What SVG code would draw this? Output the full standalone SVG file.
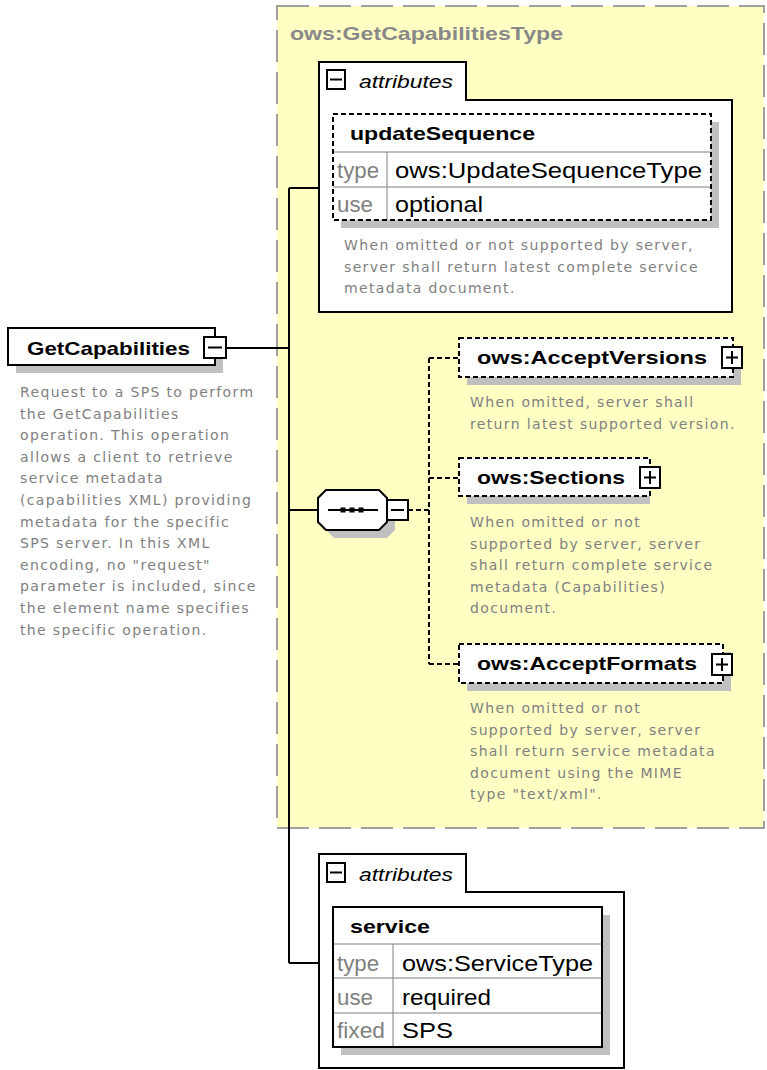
<svg xmlns="http://www.w3.org/2000/svg" width="767" height="1070" viewBox="0 0 767 1070">
<style>
.desc{font-family:"DejaVu Sans","Liberation Sans",sans-serif;font-size:14px;fill:#808080;letter-spacing:1.35px}
.lbl{font-family:"Liberation Sans",Arial,sans-serif;font-weight:bold;font-size:19px;fill:#000}
.title{font-family:"Liberation Sans",Arial,sans-serif;font-weight:bold;font-size:19px;fill:#888}
.cell{font-family:"Liberation Sans",Arial,sans-serif;font-size:22px;fill:#000}
.key{font-family:"Liberation Sans",Arial,sans-serif;font-size:22px;fill:#808080}
.attr{font-family:"Liberation Sans",Arial,sans-serif;font-style:italic;font-size:18px;fill:#000}
.box{fill:#fff;stroke:#000;stroke-width:2}
.opt{fill:#fff;stroke:#000;stroke-width:2;stroke-dasharray:5 3}
.shadow{fill:#c0c0c0}
.conn{fill:none;stroke:#000;stroke-width:2}
.dconn{fill:none;stroke:#000;stroke-width:2;stroke-dasharray:5 3}
.icon{fill:#fff;stroke:#000;stroke-width:2}
.grid{stroke:#808080;stroke-width:1;fill:none}
</style>

<g id="complexType">
  <rect x="277" y="6" width="487" height="822" fill="#FFFFC4" stroke="#a0a0a0" stroke-width="2" stroke-dasharray="32 10"/>
  <text class="title" x="290" y="40" textLength="273" lengthAdjust="spacingAndGlyphs">ows:GetCapabilitiesType</text>
</g>

<g id="connectors">
  <path class="conn" d="M226,348 H289 M289,188 V963 M289,188 H319 M289,510 H318 M289,963 H319"/>
  <path class="dconn" d="M408,510 H429 M429,358 V664 M429,358 H459 M429,478 H459 M429,664 H459"/>
</g>

<g id="attributes1">
  <path class="box" d="M319,62 H466 V100 H732 V312 H319 Z"/>
  <rect class="icon" x="327" y="70" width="18" height="19"/>
  <path class="conn" d="M330,79.5 H342"/>
  <text class="attr" x="359" y="88" textLength="94" lengthAdjust="spacingAndGlyphs">attributes</text>
</g>

<g id="updateSequence">
  <rect class="shadow" x="341" y="122" width="378" height="106"/>
  <rect x="333" y="114" width="378" height="106" fill="#fff"/>
  <path class="grid" d="M333,152 H711 M333,187 H711 M387,152 V220"/>
  <rect x="333" y="114" width="378" height="106" fill="none" stroke="#000" stroke-width="2" stroke-dasharray="5 3"/>
  <text class="lbl" x="350" y="140" textLength="185" lengthAdjust="spacingAndGlyphs">updateSequence</text>
  <text class="key" x="337" y="178" textLength="42" lengthAdjust="spacingAndGlyphs">type</text>
  <text class="cell" x="395" y="178" textLength="307" lengthAdjust="spacingAndGlyphs">ows:UpdateSequenceType</text>
  <text class="key" x="337" y="212" textLength="36" lengthAdjust="spacingAndGlyphs">use</text>
  <text class="cell" x="395" y="212" textLength="88" lengthAdjust="spacingAndGlyphs">optional</text>
  <text class="desc" x="344" y="250">When omitted or not supported by server,</text>
  <text class="desc" x="344" y="271.5">server shall return latest complete service</text>
  <text class="desc" x="344" y="293">metadata document.</text>
</g>

<g id="GetCapabilities">
  <rect class="shadow" x="16" y="336" width="207" height="37"/>
  <rect class="box" x="8" y="328" width="207" height="37"/>
  <text class="lbl" x="27" y="355" textLength="163" lengthAdjust="spacingAndGlyphs">GetCapabilities</text>
  <rect class="icon" x="204" y="337" width="22" height="21"/>
  <path class="conn" d="M208,347.5 H222"/>
  <text class="desc" x="20" y="397">Request to a SPS to perform</text>
  <text class="desc" x="20" y="418.6">the GetCapabilities</text>
  <text class="desc" x="20" y="440.2">operation. This operation</text>
  <text class="desc" x="20" y="461.8">allows a client to retrieve</text>
  <text class="desc" x="20" y="483.4">service metadata</text>
  <text class="desc" x="20" y="505">(capabilities XML) providing</text>
  <text class="desc" x="20" y="526.6">metadata for the specific</text>
  <text class="desc" x="20" y="548.2">SPS server. In this XML</text>
  <text class="desc" x="20" y="569.8">encoding, no "request"</text>
  <text class="desc" x="20" y="591.4">parameter is included, since</text>
  <text class="desc" x="20" y="613">the element name specifies</text>
  <text class="desc" x="20" y="634.6">the specific operation.</text>
</g>

<g id="sequence">
  <polygon class="shadow" points="334,498 387,498 395,506 395,530 387,538 334,538 326,530 326,506"/>
  <polygon class="box" points="326,490 379,490 387,498 387,522 379,530 326,530 318,522 318,498"/>
  <path class="conn" d="M328,510 H378"/>
  <rect x="340.5" y="507.5" width="5" height="5" fill="#000"/>
  <rect x="349.5" y="507.5" width="5" height="5" fill="#000"/>
  <rect x="358.5" y="507.5" width="5" height="5" fill="#000"/>
  <rect class="icon" x="387" y="500" width="21" height="20"/>
  <path class="conn" d="M391,510 H404"/>
</g>

<g id="AcceptVersions">
  <rect class="shadow" x="467" y="346" width="274" height="39"/>
  <rect class="opt" x="459" y="338" width="274" height="39"/>
  <text class="lbl" x="477" y="364" textLength="230" lengthAdjust="spacingAndGlyphs">ows:AcceptVersions</text>
  <rect class="icon" x="722" y="347" width="20" height="21"/>
  <path class="conn" d="M726,357.5 H738 M732,351 V364"/>
  <text class="desc" x="470" y="407">When omitted, server shall</text>
  <text class="desc" x="470" y="428.5">return latest supported version.</text>
</g>

<g id="Sections">
  <rect class="shadow" x="467" y="466" width="183" height="38"/>
  <rect class="opt" x="459" y="458" width="191" height="38"/>
  <text class="lbl" x="477" y="484" textLength="148" lengthAdjust="spacingAndGlyphs">ows:Sections</text>
  <rect class="icon" x="640" y="467" width="20" height="21"/>
  <path class="conn" d="M644,477.5 H656 M650,471 V484"/>
  <text class="desc" x="470" y="527">When omitted or not</text>
  <text class="desc" x="470" y="548.5">supported by server, server</text>
  <text class="desc" x="470" y="570">shall return complete service</text>
  <text class="desc" x="470" y="591.5">metadata (Capabilities)</text>
  <text class="desc" x="470" y="613">document.</text>
</g>

<g id="AcceptFormats">
  <rect class="shadow" x="467" y="652" width="264" height="39"/>
  <rect class="opt" x="459" y="644" width="264" height="39"/>
  <text class="lbl" x="477" y="670" textLength="220" lengthAdjust="spacingAndGlyphs">ows:AcceptFormats</text>
  <rect class="icon" x="712" y="654" width="20" height="21"/>
  <path class="conn" d="M716,664.5 H728 M722,658 V671"/>
  <text class="desc" x="470" y="713">When omitted or not</text>
  <text class="desc" x="470" y="734.5">supported by server, server</text>
  <text class="desc" x="470" y="756">shall return service metadata</text>
  <text class="desc" x="470" y="777.5">document using the MIME</text>
  <text class="desc" x="470" y="799">type "text/xml".</text>
</g>

<g id="attributes2">
  <path class="box" d="M319,854 H466 V892 H624 V1068 H319 Z"/>
  <rect class="icon" x="327" y="863" width="18" height="19"/>
  <path class="conn" d="M330,872.5 H342"/>
  <text class="attr" x="359" y="881" textLength="94" lengthAdjust="spacingAndGlyphs">attributes</text>
</g>

<g id="service">
  <rect class="shadow" x="341" y="915" width="269" height="140"/>
  <rect x="333" y="907" width="269" height="140" fill="#fff"/>
  <path class="grid" d="M333,944 H602 M333,978 H602 M333,1013 H602 M393,944 V1047"/>
  <rect x="333" y="907" width="269" height="140" fill="none" stroke="#000" stroke-width="2"/>
  <text class="lbl" x="350" y="933" textLength="80" lengthAdjust="spacingAndGlyphs">service</text>
  <text class="key" x="337" y="971" textLength="42" lengthAdjust="spacingAndGlyphs">type</text>
  <text class="cell" x="402" y="971" textLength="191" lengthAdjust="spacingAndGlyphs">ows:ServiceType</text>
  <text class="key" x="337" y="1005" textLength="36" lengthAdjust="spacingAndGlyphs">use</text>
  <text class="cell" x="402" y="1005" textLength="89" lengthAdjust="spacingAndGlyphs">required</text>
  <text class="key" x="337" y="1038" textLength="48" lengthAdjust="spacingAndGlyphs">fixed</text>
  <text class="cell" x="402" y="1038" textLength="51" lengthAdjust="spacingAndGlyphs">SPS</text>
</g>
</svg>
